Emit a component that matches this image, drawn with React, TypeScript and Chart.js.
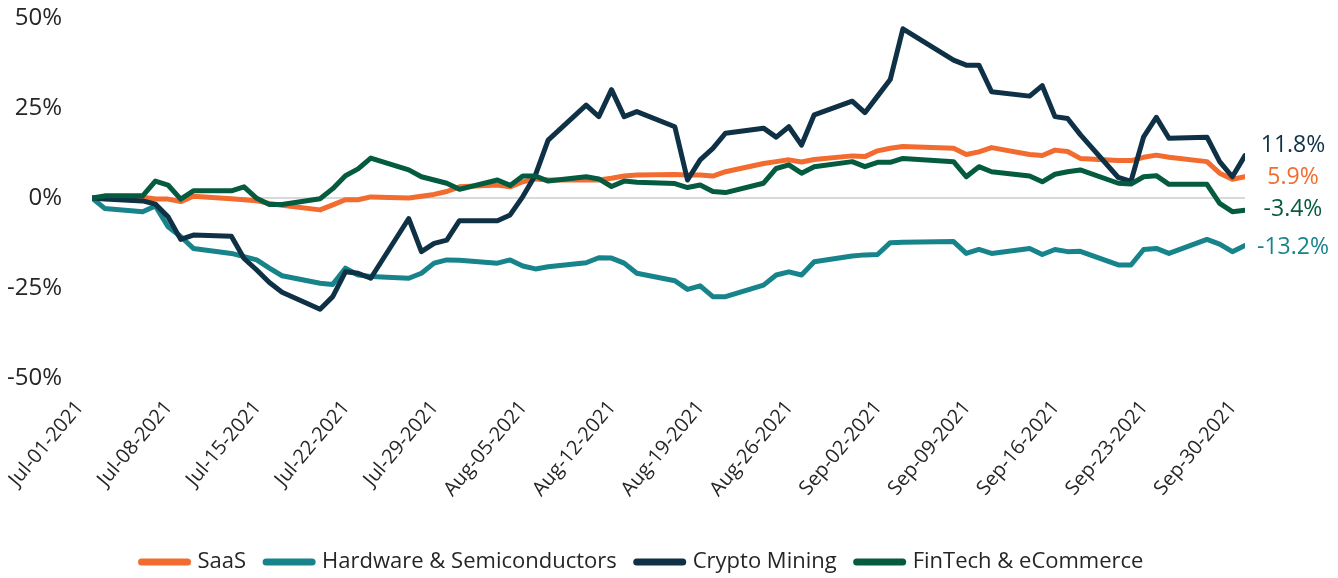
import React, { useEffect, useRef } from 'react';
import { Chart, registerables } from 'chart.js';

Chart.register(...registerables);

// ---- data ----
const startDate = '2021-07-01';
const endDate = '2021-09-30';
const tickStepDays = 7;

const tradingDates = [
  '2021-07-01', '2021-07-02', '2021-07-05', '2021-07-06', '2021-07-07', '2021-07-08', '2021-07-09',
  '2021-07-12', '2021-07-13', '2021-07-14', '2021-07-15', '2021-07-16',
  '2021-07-19', '2021-07-20', '2021-07-21', '2021-07-22', '2021-07-23',
  '2021-07-26', '2021-07-27', '2021-07-28', '2021-07-29', '2021-07-30',
  '2021-08-02', '2021-08-03', '2021-08-04', '2021-08-05', '2021-08-06',
  '2021-08-09', '2021-08-10', '2021-08-11', '2021-08-12', '2021-08-13',
  '2021-08-16', '2021-08-17', '2021-08-18', '2021-08-19', '2021-08-20',
  '2021-08-23', '2021-08-24', '2021-08-25', '2021-08-26', '2021-08-27',
  '2021-08-30', '2021-08-31', '2021-09-01', '2021-09-02', '2021-09-03',
  '2021-09-07', '2021-09-08', '2021-09-09', '2021-09-10',
  '2021-09-13', '2021-09-14', '2021-09-15', '2021-09-16', '2021-09-17',
  '2021-09-20', '2021-09-21', '2021-09-22', '2021-09-23', '2021-09-24',
  '2021-09-27', '2021-09-28', '2021-09-29', '2021-09-30',
];

const saas = [
  0, 0.3, 0.2, -0.3, -0.3, -1.0, 0.5,
  -0.2, -0.5, -0.8, -1.5, -2.0,
  -3.3, -1.9, -0.5, -0.5, 0.3,
  0.0, 0.5, 1.0, 1.8, 3.1,
  3.6, 3.1, 4.5, 5.3, 5.0,
  5.0, 5.0, 5.5, 6.1, 6.4,
  6.5, 6.4, 6.4, 6.1, 7.3,
  9.6, 10.1, 10.6, 10.0, 10.7,
  11.7, 11.5, 13.1, 13.8, 14.3,
  13.8, 12.1, 12.8, 14.0,
  12.1, 11.8, 13.3, 12.9, 11.0,
  10.4, 10.4, 11.3, 11.9, 11.3,
  10.1, 6.9, 5.2, 5.9,
];

const hardware = [
  0, -2.9, -3.8, -2.2, -8.0, -10.7, -14.0,
  -15.4, -16.3, -17.2, -19.5, -21.6,
  -23.7, -24.0, -19.5, -21.4, -21.8,
  -22.3, -20.9, -18.1, -17.2, -17.3,
  -18.1, -17.2, -18.9, -19.7, -19.1,
  -18.0, -16.6, -16.7, -18.1, -20.9,
  -23.0, -25.4, -24.4, -27.4, -27.4,
  -24.2, -21.4, -20.5, -21.4, -17.7,
  -16.1, -15.8, -15.7, -12.4, -12.3,
  -12.1, -15.4, -14.3, -15.4,
  -14.0, -15.7, -14.3, -14.9, -14.8,
  -18.6, -18.6, -14.3, -14.0, -15.4,
  -11.5, -12.8, -14.9, -13.2,
];

const crypto = [
  0, -0.3, -0.8, -1.7, -5.2, -11.5, -10.3,
  -10.6, -16.8, -20.0, -23.5, -26.2,
  -30.9, -27.4, -20.5, -20.9, -22.3,
  -5.7, -14.9, -12.6, -11.7, -6.3,
  -6.3, -4.7, 0.4, 6.4, 16.1,
  25.8, 22.6, 30.1, 22.6, 24.0,
  19.8, 5.0, 10.6, 13.8, 18.0,
  19.4, 16.9, 19.8, 14.7, 23.1,
  26.9, 23.7, 28.3, 32.9, 47.0,
  38.3, 36.9, 36.9, 29.5,
  28.3, 31.2, 22.6, 22.1, 17.6,
  5.7, 4.6, 17.0, 22.4, 16.6,
  16.9, 10.1, 5.9, 11.8,
];

const fintech = [
  0, 0.6, 0.6, 4.7, 3.6, -0.3, 2.0,
  2.0, 3.1, -0.1, -1.8, -1.8,
  -0.2, 2.6, 6.2, 8.1, 11.1,
  7.8, 5.9, 5.0, 4.1, 2.4,
  5.0, 3.5, 6.1, 6.1, 4.7,
  5.9, 5.3, 3.2, 4.7, 4.4,
  4.0, 2.9, 3.6, 1.8, 1.5,
  4.1, 8.2, 9.2, 6.9, 8.7,
  10.1, 8.7, 9.9, 9.9, 11.0,
  10.1, 5.9, 8.7, 7.3,
  6.1, 4.5, 6.6, 7.3, 7.8,
  4.1, 3.9, 5.9, 6.2, 3.8,
  3.8, -1.5, -3.8, -3.4,
];

const seriesNames = ['SaaS', 'Hardware & Semiconductors', 'Crypto Mining', 'FinTech & eCommerce'];
const seriesValues = [saas, hardware, crypto, fintech];
const yTicks = [-50, -25, 0, 25, 50];

// ---- styles ----
const colors = ['#F26B2F', '#17848B', '#0E3146', '#045B40'];
const drawOrder = [3, 2, 1, 0]; // later series on top
const labelOffsets = [1, 2, -10, -1];
const FONT = '"Open Sans", "Noto Sans", sans-serif';
const TEXT = '#262626';

const DAY = 86400000;
const dayIndex = (d: string) => Math.round((Date.parse(d) - Date.parse(startDate)) / DAY);
const MONTHS = ['Jan', 'Feb', 'Mar', 'Apr', 'May', 'Jun', 'Jul', 'Aug', 'Sep', 'Oct', 'Nov', 'Dec'];
const formatDay = (i: number) => {
  const d = new Date(Date.parse(startDate) + i * DAY);
  return `${MONTHS[d.getUTCMonth()]}-${String(d.getUTCDate()).padStart(2, '0')}-${d.getUTCFullYear()}`;
};

const endLabelPlugin = {
  id: 'endLabels',
  afterDatasetsDraw(chart: any) {
    const ctx = chart.ctx;
    ctx.save();
    ctx.font = `23px ${FONT}`;
    ctx.textAlign = 'center';
    ctx.textBaseline = 'middle';
    chart.data.datasets.forEach((ds: any, i: number) => {
      const meta = chart.getDatasetMeta(i);
      const pt = meta.data[meta.data.length - 1];
      const v = ds.data[ds.data.length - 1].y;
      ctx.fillStyle = colors[i];
      ctx.fillText(`${v.toFixed(1)}%`, chart.chartArea.right + 48, pt.y + labelOffsets[i]);
    });
    ctx.restore();
  },
};

const legendPlugin = {
  id: 'customLegend',
  afterDraw(chart: any) {
    const ctx = chart.ctx;
    const sample = 52;
    const gapText = 7;
    const gapItem = 17;
    const y = 562;
    ctx.save();
    ctx.font = `22px ${FONT}`;
    const widths = seriesNames.map((n) => sample + gapText + ctx.measureText(n).width);
    const total = widths.reduce((a, b) => a + b, 0) + gapItem * (widths.length - 1);
    let x = 641 - total / 2;
    seriesNames.forEach((n, i) => {
      ctx.strokeStyle = colors[i];
      ctx.lineWidth = 7;
      ctx.lineCap = 'round';
      ctx.beginPath();
      ctx.moveTo(x + 3, y);
      ctx.lineTo(x + sample - 3, y);
      ctx.stroke();
      ctx.fillStyle = TEXT;
      ctx.textAlign = 'left';
      ctx.textBaseline = 'middle';
      ctx.fillText(n, x + sample + gapText, y);
      x += widths[i] + gapItem;
    });
    ctx.restore();
  },
};

export default function App() {
  const ref = useRef<HTMLCanvasElement | null>(null);

  useEffect(() => {
    if (!ref.current) return;
    const datasets = seriesNames.map((name, i) => ({
      label: name,
      data: tradingDates.map((d, j) => ({ x: dayIndex(d), y: seriesValues[i][j] })),
      borderColor: colors[i],
      backgroundColor: colors[i],
      borderWidth: 5,
      borderJoinStyle: 'round' as const,
      borderCapStyle: 'round' as const,
      pointRadius: 0,
      tension: 0,
      order: drawOrder[i],
    }));

    const chart = new Chart(ref.current, {
      type: 'line',
      data: { datasets },
      options: {
        animation: false,
        responsive: false,
        devicePixelRatio: 1,
        layout: { padding: { top: 18, right: 93, left: 0, bottom: 0 } },
        plugins: { legend: { display: false }, tooltip: { enabled: false } },
        scales: {
          x: {
            type: 'linear',
            min: 0,
            max: dayIndex(endDate),
            grid: { display: false },
            border: { display: false },
            ticks: {
              stepSize: tickStepDays,
              autoSkip: false,
              minRotation: 50,
              maxRotation: 50,
              color: TEXT,
              font: { family: FONT, size: 20 },
              padding: 10,
              labelOffset: -12,
              callback: (v: any) => formatDay(Number(v)),
            },
            afterFit: (s: any) => { s.height = 200; },
          },
          y: {
            type: 'linear',
            min: yTicks[0],
            max: yTicks[yTicks.length - 1],
            afterBuildTicks: (s: any) => { s.ticks = yTicks.map((v) => ({ value: v })); },
            grid: {
              drawTicks: false,
              color: (c: any) => (c.tick && c.tick.value === 0 ? '#D9D9D9' : 'rgba(0,0,0,0)'),
              lineWidth: 2,
            },
            border: { display: false },
            ticks: {
              color: TEXT,
              font: { family: FONT, size: 24 },
              padding: 30,
              callback: (v: any) => `${v}%`,
            },
            afterFit: (s: any) => {
              s.width = 92;
              s.paddingTop = 10;
              s.paddingBottom = 10;
            },
          },
        },
      },
      plugins: [endLabelPlugin, legendPlugin],
    });
    return () => chart.destroy();
  }, []);

  return (
    <div style={{ position: 'absolute', left: 0, top: 0, width: 1338, height: 578, background: '#fff' }}>
      <canvas ref={ref} width={1338} height={578} style={{ width: 1338, height: 578 }} />
    </div>
  );
}
